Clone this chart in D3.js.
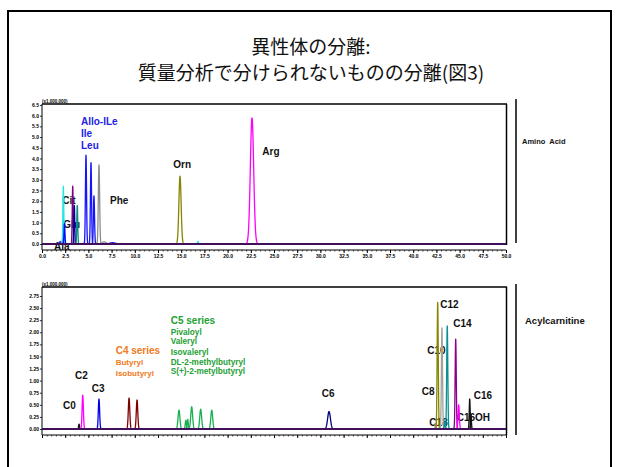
<!DOCTYPE html>
<html><head><meta charset="utf-8">
<script src="https://cdn.jsdelivr.net/npm/d3@7"></script>
<style>
html,body{margin:0;padding:0;background:#fff;}
svg{display:block;}
text{font-family:"Liberation Sans",Arial,sans-serif;}
</style></head><body>
<svg id="c" width="619" height="467"></svg>
<script>
// ---- Amino acid trace: retention time (min), height (x1,000,000), peak sigma (min), series key
const aaRt     = [1.95, 2.25, 2.30, 2.42, 3.31, 3.48, 3.80, 4.74, 5.28, 5.60, 6.14, 6.70, 7.60, 14.87, 16.81, 22.63];
const aaHeight = [0.12, 0.28, 2.70, 0.95, 2.70, 1.80, 1.80, 4.15, 3.80, 2.25, 3.70, 0.10, 0.06, 3.17, 0.12, 5.90];
const aaSigma  = [0.05, 0.04, 0.05, 0.05, 0.05, 0.05, 0.05, 0.06, 0.06, 0.06, 0.07, 0.20, 0.30, 0.12, 0.06, 0.18];
const aaKey    = ["blue", "ala", "cit", "glu", "purple", "navy", "teal", "leu", "leu", "leu", "phe", "phe", "leu", "orn", "cit", "arg"];

// Amino acid annotations: text, retention time, level (x1,000,000), style key
const aaLabelText  = ["Allo-ILe", "Ile", "Leu", "Orn", "Arg", "Phe", "Cit", "Glu", "Ala"];
const aaLabelRt    = [4.20, 4.20, 4.20, 14.15, 23.74, 7.33, 2.19, 2.30, 1.29];
const aaLabelLevel = [5.58, 5.02, 4.46, 3.57, 4.18, 1.89, 1.89, 0.77, -0.29];
const aaLabelKey   = ["iso", "iso", "iso", "plain", "plain", "plain", "plain", "plain", "plain"];

// ---- Acylcarnitine trace
const acRt     = [3.99, 4.39, 6.14, 9.38, 10.24, 14.76, 15.50, 15.70, 16.13, 17.10, 18.29, 30.93, 42.40, 42.64, 43.10, 43.40, 43.67, 44.58, 44.90, 46.09, 46.22];
const acHeight = [0.10, 0.70, 0.62, 0.64, 0.60, 0.39, 0.18, 0.20, 0.46, 0.41, 0.39, 0.36, 0.12, 2.62, 2.09, 0.15, 2.13, 1.86, 0.50, 0.62, 0.30];
const acSigma  = [0.05, 0.07, 0.07, 0.08, 0.08, 0.10, 0.06, 0.06, 0.10, 0.10, 0.10, 0.15, 0.05, 0.06, 0.06, 0.05, 0.06, 0.06, 0.07, 0.05, 0.05];
const acKey    = ["c0", "c2", "c3", "c4", "c4", "c5", "c5", "c5", "c5", "c5", "c5", "c6", "c10", "c12", "c10", "c14", "c14", "c14b", "c2", "c16", "c16"];

const acLabelText  = ["C0", "C2", "C3", "C4 series", "Butyryl", "Isobutyryl", "C5 series", "Pivaloyl", "Valeryl", "Isovaleryl", "DL-2-methylbutyryl", "S(+)-2-metylbutyryl", "C6", "C12", "C14", "C10", "C8", "C16", "C16OH", "C18"];
const acLabelRt    = [2.26, 3.56, 5.36, 7.94, 7.94, 7.94, 13.87, 13.87, 13.87, 13.87, 13.87, 13.87, 30.14, 42.92, 44.32, 41.52, 40.92, 46.52, 44.69, 41.74];
const acLabelLevel = [0.42, 1.04, 0.77, 1.55, 1.33, 1.10, 2.17, 1.95, 1.75, 1.54, 1.33, 1.13, 0.665, 2.50, 2.11, 1.55, 0.71, 0.63, 0.17, 0.06];
const acLabelKey   = ["plain", "plain", "plain", "c4h", "c4s", "c4s", "c5h", "c5s", "c5s", "c5s", "c5s", "c5s", "plain", "plain", "plain", "plain", "plain", "plain", "plain", "plain"];

// Axis ticks
const timeMajor = d3.range(0, 50.001, 2.5);
const timeMinor = d3.range(0, 50.001, 0.5);
const aaTicks = d3.range(0, 6.501, 0.5);
const acTicks = d3.range(0, 2.751, 0.25);

const titleLines = ["異性体の分離:", "質量分析で分けられないものの分離(図3)"];
const panelNames = ["Amino  Acid", "Acylcarnitine"];

// ---- styles
const lineColor = {
  blue: "#2a2aff", ala: "#1a1a40", cit: "#22e6e6", glu: "#0000ff", purple: "#800080",
  navy: "#000099", teal: "#0a8a80", leu: "#1414ff", phe: "#8c8c8c", orn: "#858500", arg: "#ff00ff",
  c0: "#111111", c2: "#ff00ff", c3: "#0000ee", c4: "#800000", c5: "#18b050", c6: "#000080",
  c10: "#a0a0a0", c12: "#868600", c14: "#0a9090", c14b: "#8b008b", c16: "#111111"
};
const labelStyle = {
  plain: {fill: "#111", size: 10, weight: "bold"},
  iso:   {fill: "#2222e8", size: 10, weight: "bold"},
  c4h:   {fill: "#ee7a22", size: 10, weight: "bold"},
  c4s:   {fill: "#ee7a22", size: 8, weight: "bold"},
  c5h:   {fill: "#23a035", size: 10, weight: "bold"},
  c5s:   {fill: "#23a035", size: 8.2, weight: "bold"}
};
const baseColor = "#40105a";

const svg = d3.select("#c");

// outer frame
svg.append("rect").attr("x", 8).attr("y", 11).attr("width", 603).attr("height", 470)
  .attr("fill", "none").attr("stroke", "#000").attr("stroke-width", 2);

// title
svg.append("g").selectAll("text").data(titleLines).join("text")
  .attr("x", 311).attr("y", (d, i) => 54 + i * 26)
  .attr("text-anchor", "middle")
  .style("font-family", "'Noto Sans CJK JP', sans-serif")
  .style("font-size", "19px").attr("fill", "#111")
  .text(d => d);

const x = d3.scaleLinear().domain([0, 50]).range([42, 506]);

function gauss(rt, h, s) {
  const pts = [];
  for (let k = -32; k <= 32; k++) {
    const t = rt + k * s / 8;
    pts.push([t, h * Math.exp(-0.5 * Math.pow((t - rt) / s, 2))]);
  }
  return pts;
}

function panel(opt) {
  const g = svg.append("g");
  const y = opt.y;
  // frame (top & right)
  g.append("line").attr("x1", 42).attr("x2", 507).attr("y1", opt.top).attr("y2", opt.top)
    .attr("stroke", "#000").attr("stroke-width", 1.5);
  g.append("line").attr("x1", 506.5).attr("x2", 506.5).attr("y1", opt.top).attr("y2", opt.rightEnd)
    .attr("stroke", "#000").attr("stroke-width", 1.5);
  // y axis
  g.append("line").attr("x1", 42).attr("x2", 42).attr("y1", opt.top).attr("y2", opt.axisY)
    .attr("stroke", "#000").attr("stroke-width", 1);
  const ya = g.append("g").attr("transform", "translate(42,0)")
    .call(d3.axisLeft(y).tickValues(opt.yTicks).tickSize(2).tickFormat(d3.format(opt.yFmt)));
  ya.select(".domain").remove();
  ya.selectAll("text").style("font-size", "5px").style("font-weight", "bold").attr("x", -3);
  ya.selectAll("line").attr("stroke-width", 0.8);
  g.append("text").attr("x", 42).attr("y", opt.top - 1.5).style("font-size", "4.5px")
    .style("font-weight", "bold").text("(x1,000,000)");
  // x axis
  g.append("line").attr("x1", 42).attr("x2", 506).attr("y1", opt.axisY).attr("y2", opt.axisY)
    .attr("stroke", "#000").attr("stroke-width", 1);
  const xm = g.append("g").attr("transform", `translate(0,${opt.axisY})`)
    .call(d3.axisBottom(x).tickValues(timeMinor).tickSize(1.5).tickFormat(""));
  xm.select(".domain").remove();
  xm.selectAll("line").attr("stroke-width", 0.7);
  const xa = g.append("g").attr("transform", `translate(0,${opt.axisY})`)
    .call(d3.axisBottom(x).tickValues(timeMajor).tickSize(3).tickFormat(opt.xLabels ? d3.format(".1f") : ""));
  xa.select(".domain").remove();
  xa.selectAll("line").attr("stroke-width", 1);
  xa.selectAll("text").style("font-size", "5px").style("font-weight", "bold").attr("y", 4.5);

  // annotations (under the traces)
  g.append("g").selectAll("text").data(opt.labels).join("text")
    .attr("x", d => x(d.rt)).attr("y", d => y(d.level))
    .style("font-size", d => labelStyle[d.key].size + "px")
    .style("font-weight", d => labelStyle[d.key].weight)
    .attr("fill", d => labelStyle[d.key].fill)
    .text(d => d.text);

  // peaks
  const line = d3.line().x(d => x(d[0])).y(d => y(d[1]));
  g.append("g").selectAll("path").data(opt.peaks).join("path")
    .attr("d", d => line(gauss(d.rt, d.h, d.s)))
    .attr("fill", "none").attr("stroke", d => lineColor[d.key]).attr("stroke-width", 1.3)
    .attr("stroke-linejoin", "round");
  // baseline
  g.append("line").attr("x1", x(0)).attr("x2", x(50)).attr("y1", y(0)).attr("y2", y(0))
    .attr("stroke", baseColor).attr("stroke-width", 2);

  // separator + panel name
  g.append("line").attr("x1", 516).attr("x2", 516).attr("y1", opt.sepTop).attr("y2", opt.sepBottom)
    .attr("stroke", "#000").attr("stroke-width", 1.5);
  g.append("text").attr("x", opt.nameX).attr("y", opt.nameY)
    .style("font-size", opt.nameSize + "px").style("font-weight", "bold").style("white-space", "pre")
    .attr("fill", "#111").text(opt.name);
}

panel({
  y: d3.scaleLinear().domain([0, 6.5]).range([244, 105]),
  top: 104, rightEnd: 245, axisY: 250, yTicks: aaTicks, yFmt: ".1f", xLabels: true,
  labels: aaLabelText.map((t, i) => ({text: t, rt: aaLabelRt[i], level: aaLabelLevel[i], key: aaLabelKey[i]})),
  peaks: aaRt.map((r, i) => ({rt: r, h: aaHeight[i], s: aaSigma[i], key: aaKey[i]})),
  sepTop: 99, sepBottom: 243, name: panelNames[0], nameX: 522, nameY: 144, nameSize: 7.5
});

panel({
  y: d3.scaleLinear().domain([0, 2.75]).range([429, 296]),
  top: 287, rightEnd: 435, axisY: 435, yTicks: acTicks, yFmt: ".2f", xLabels: false,
  labels: acLabelText.map((t, i) => ({text: t, rt: acLabelRt[i], level: acLabelLevel[i], key: acLabelKey[i]})),
  peaks: acRt.map((r, i) => ({rt: r, h: acHeight[i], s: acSigma[i], key: acKey[i]})),
  sepTop: 284, sepBottom: 435, name: panelNames[1], nameX: 525, nameY: 324, nameSize: 9.5
});
</script>
</body></html>
